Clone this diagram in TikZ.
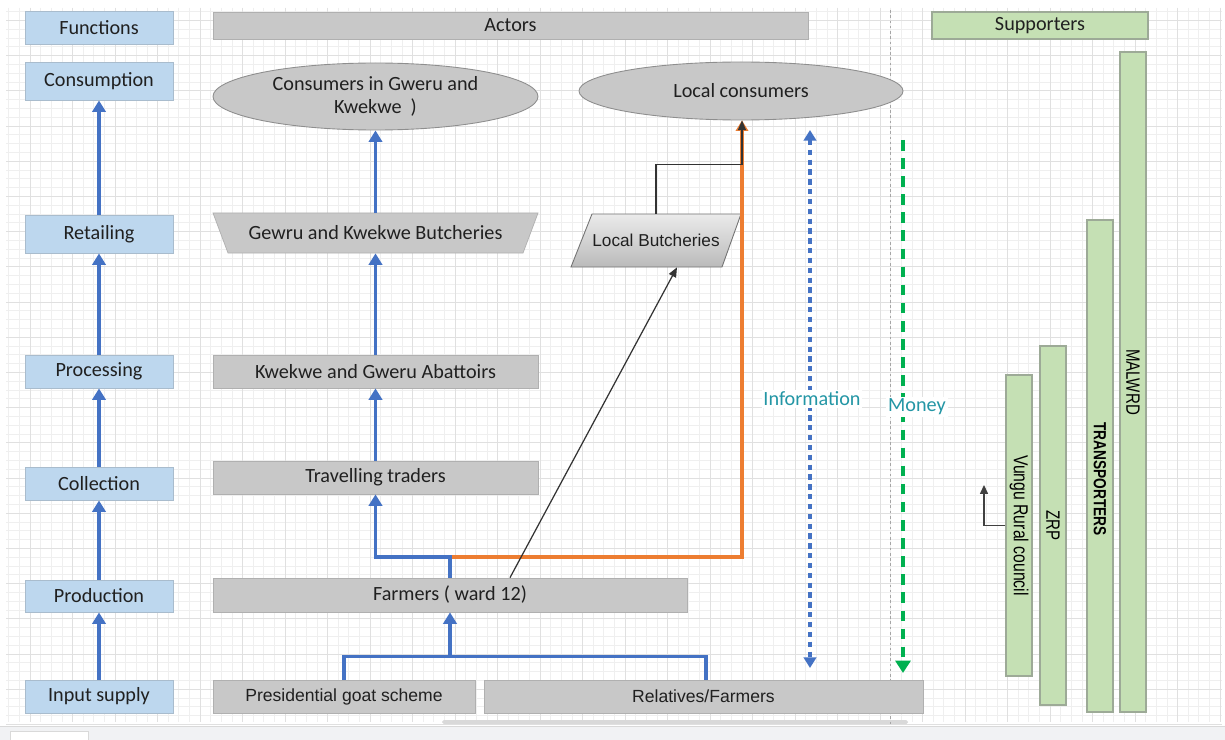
\documentclass[tikz,border=0pt]{standalone}
\usepackage{fontspec}
\setmainfont{Carlito}
\newfontfamily\arialf{Liberation Sans}
\newfontfamily\narrowf[FakeStretch=0.78]{Liberation Sans}
\usetikzlibrary{arrows.meta,shapes.geometric}
\def\pxu{0.02cm}
\definecolor{fnblue}{HTML}{BDD7EE}
\definecolor{fnborder}{HTML}{A9BCCD}
\definecolor{actgray}{HTML}{C8C8C8}
\definecolor{actborder}{HTML}{B0B0B0}
\definecolor{ellborder}{HTML}{8E8E8E}
\definecolor{supgreen}{HTML}{C5E0B4}
\definecolor{supborder}{HTML}{9DAA97}
\definecolor{flowblue}{HTML}{4472C4}
\definecolor{floworange}{HTML}{ED7D31}
\definecolor{moneygreen}{HTML}{00B050}
\definecolor{teal}{RGB}{35,150,165}
\definecolor{txt}{HTML}{202020}
\definecolor{gridminor}{HTML}{EFEFEF}
\definecolor{gridmajor}{HTML}{E0E0E0}
\definecolor{stripgray}{HTML}{F1F2F4}
\begin{document}
\begin{tikzpicture}[x=0.02cm,y=-0.02cm,
  cal/.style={font=\fontsize{11.5}{13.5}\selectfont, text=txt},
  fnbox/.style={cal, draw=fnborder, fill=fnblue, line width=0.5pt, minimum width=148*\pxu, inner sep=0pt},
  graybox/.style={cal, draw=actborder, fill=actgray, line width=0.4pt, inner sep=0pt},
  ellbox/.style={cal, ellipse, draw=ellborder, fill=actgray, line width=0.5pt, inner sep=0pt, align=center},
  supbox/.style={draw=supborder, fill=supgreen, line width=0.6pt, inner sep=0pt},
  ghost/.style={inner sep=0pt},
  flow/.style={draw=flowblue, line width=2.1pt, -{Triangle[width=7.5pt,length=6.5pt]}},
  blueline/.style={draw=flowblue, line width=2.1pt},
  orangeflow/.style={draw=floworange, line width=2.1pt, -{Triangle[width=7pt,length=6pt]}},
  thinarrow/.style={draw=black!80, line width=0.7pt, -{Triangle[width=4.5pt,length=5.5pt]}},
  supfont/.style={font=\narrowf\fontsize{11}{13}\selectfont, text=black}
]
\useasboundingbox (0,0) rectangle (1225,740);
\fill[white] (0,0) rectangle (1225,740);
% background grid
\foreach \i in {0,...,114} {
  \draw[gridminor, line width=0.4pt] ({8.75+10.625*\i},8) -- ++(0,714);
}
\foreach \i in {0,...,80} {
  \draw[gridminor, line width=0.4pt] (6,{11.5+8.8*\i}) -- ++(1216,0);
}
\foreach \i in {0,...,28} {
  \draw[gridmajor, line width=0.4pt] ({30+42.5*\i},8) -- ++(0,714);
}
\foreach \i in {0,...,20} {
  \draw[gridmajor, line width=0.4pt] (6,{20.3+35.2*\i}) -- ++(1216,0);
}
% bottom strip and scrollbar
\fill[stripgray] (0,726) rectangle (1225,740);
\draw[black!15, line width=0.5pt] (0,726) -- (1225,726);
\fill[white] (10,731) rectangle (88,740);
\draw[black!15, line width=0.5pt] (10,740) -- (10,731) -- (88,731) -- (88,740);
\fill[black!15, rounded corners=1pt] (442,720) rectangle (908,724);
% separator
\draw[black!35, line width=0.4pt, dash pattern=on 1.5pt off 1.5pt] (890,10) -- (890,724);

% functions column
\node[fnbox, minimum height=33*\pxu] (func) at (99,28) {Functions};
\node[fnbox, minimum height=38*\pxu] (cons) at (99,81) {Consumption};
\node[fnbox, minimum height=38*\pxu] (ret) at (99,234) {Retailing};
\node[fnbox, minimum height=33*\pxu] (proc) at (99,371.5) {Processing};
\node[fnbox, minimum height=33*\pxu] (coll) at (99,483.5) {Collection};
\node[fnbox, minimum height=32*\pxu] (prod) at (99,596) {Production};
\node[fnbox, minimum height=33*\pxu] (inp) at (99,696.5) {Input supply};
\draw[flow] (inp.north) -- (prod.south);
\draw[flow] (prod.north) -- (coll.south);
\draw[flow] (coll.north) -- (proc.south);
\draw[flow] (proc.north) -- (ret.south);
\draw[flow] (ret.north) -- (cons.south);

% headers
\node[graybox, minimum width=595*\pxu, minimum height=27*\pxu] (actors) at (510.5,25.5) {Actors};
\node[supbox, cal, minimum width=216*\pxu, minimum height=27*\pxu] (supp) at (1040,25.5) {Supporters};

% actors
\node[ellbox, minimum width=325*\pxu, minimum height=67*\pxu] (cgk) at (375.5,96.5) {Consumers in Gweru and\\Kwekwe\ \ )};
\node[ellbox, minimum width=324*\pxu, minimum height=58*\pxu] (lc) at (741,91) {Local consumers};
\filldraw[fill=actgray, draw=actborder, line width=0.4pt] (213,213) -- (538,213) -- (523,253) -- (228,253) -- cycle;
\node[ghost, cal, minimum width=325*\pxu, minimum height=40*\pxu] (gkb) at (375.5,233) {Gewru and Kwekwe Butcheries};
\shade[top color=black!8, bottom color=black!27] (592,214) -- (741,214) -- (722,267) -- (571,267) -- cycle;
\draw[draw=black!55, line width=0.5pt] (592,214) -- (741,214) -- (722,267) -- (571,267) -- cycle;
\node[ghost, font=\arialf\fontsize{9.8}{12}\selectfont, text=txt, minimum width=171*\pxu, minimum height=53*\pxu] (lb) at (656,240.5) {Local Butcheries};
\node[graybox, minimum width=325*\pxu, minimum height=33*\pxu] (abat) at (375.5,371.5) {Kwekwe and Gweru Abattoirs};
\node[graybox, minimum width=325*\pxu, minimum height=33*\pxu] (trav) at (375.5,477.5) {Travelling traders};
\node[graybox, minimum width=474*\pxu, minimum height=34*\pxu] (farm) at (450,595) {Farmers ( ward 12)};
\node[graybox, font=\arialf\fontsize{10}{12}\selectfont, minimum width=262*\pxu, minimum height=33*\pxu] (pres) at (344,696.5) {Presidential goat scheme};
\node[graybox, font=\arialf\fontsize{10}{12}\selectfont, minimum width=439*\pxu, minimum height=33*\pxu] (rel) at (703.5,696.5) {Relatives/Farmers};

% actor connectors
\draw[flow] (trav.north) -- (abat.south);
\draw[flow] (abat.north) -- (gkb.south);
\draw[flow] (gkb.north) -- (cgk.south);
\coordinate (j) at (450,557);
\draw[orangeflow] (j) -| ([xshift=1*\pxu]lc.south);
\draw[flow] (farm.north) -- (j) -| (trav.south);
\draw[blueline] (pres.north) -- ++(0,-23) -| ([xshift=2.5*\pxu]rel.north);
\coordinate (bus) at (450,657);
\draw[flow] (bus) -- (farm.south);
\draw[thinarrow] (lb.north) -- ++(0,-49.5) -| ([xshift=1*\pxu]lc.south);
\draw[thinarrow] ([xshift=60*\pxu]farm.north) -- ([xshift=21*\pxu]lb.south);

% information and money
\coordinate (i1) at (810,130);
\coordinate (i2) at (810,668);
\draw[draw=flowblue, line width=2.1pt, dash pattern=on 3pt off 2.6pt, {Triangle[width=7pt,length=6pt]}-{Triangle[width=7pt,length=6pt]}] (i1) -- (i2);
\coordinate (m1) at (903,140);
\coordinate (m2) at (903,673);
\draw[draw=moneygreen, line width=2.5pt, dash pattern=on 6pt off 4.3pt, -{Triangle[width=8.5pt,length=7pt]}] (m1) -- (m2);
\node[fill=white, inner sep=1pt, font=\fontsize{11.5}{13}\selectfont, text=teal] (info) at (812,399) {Information};
\node[fill=white, inner sep=1pt, font=\fontsize{11.5}{13}\selectfont, text=teal] (money) at (917,407) {Money};

% supporters
\node[supbox, supfont, rotate=-90, minimum width=660*\pxu, minimum height=26*\pxu] (malwrd) at (1133,382) {MALWRD};
\node[supbox, rotate=-90, minimum width=492*\pxu, minimum height=26*\pxu] (transbar) at (1100,466) {};
\node[font=\narrowf\bfseries\fontsize{10}{12}\selectfont, rotate=-90, inner sep=0pt] (trans) at (1100,479) {TRANSPORTERS};
\node[supbox, supfont, rotate=-90, minimum width=359*\pxu, minimum height=26*\pxu] (zrp) at (1053,525.5) {ZRP};
\node[supbox, font=\narrowf\fontsize{11.5}{13}\selectfont, rotate=-90, minimum width=301*\pxu, minimum height=26*\pxu] (vungu) at (1019,525.5) {Vungu Rural\ council};
\coordinate (vtip) at (984,485);
\draw[draw=black!75, line width=0.7pt, -{Triangle[width=4.5pt,length=5pt]}] (vungu.south) -| (vtip);
\end{tikzpicture}
\end{document}
